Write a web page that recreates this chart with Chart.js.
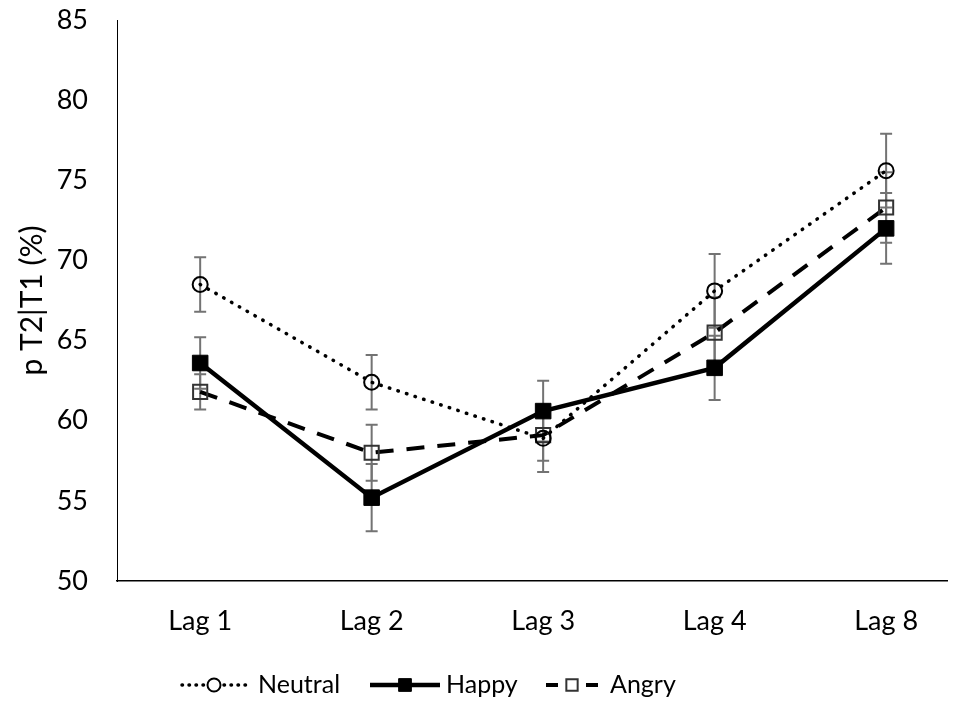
<!DOCTYPE html>
<html>
<head>
<meta charset="utf-8">
<script src="https://cdn.jsdelivr.net/npm/chart.js@4.4.1/dist/chart.umd.min.js"></script>
<style>
  html, body { margin: 0; padding: 0; background: #fff; overflow: hidden; }
</style>
</head>
<body>
<canvas id="chart" width="959" height="707"></canvas>
<script>
const lags = ['Lag 1', 'Lag 2', 'Lag 3', 'Lag 4', 'Lag 8'];
const neutral = [68.5, 62.4, 58.9, 68.1, 75.6];
const happy = [63.6, 55.2, 60.6, 63.3, 72.0];
const angry = [61.8, 58.0, 59.1, 65.5, 73.3];
const neutralErr = [1.7, 1.7, 2.1, 2.3, 2.3];
const happyErr = [1.6, 2.1, 1.9, 2.0, 2.2];
const angryErr = [1.1, 1.75, 1.6, 2.2, 2.2];
const yTicks = [50, 55, 60, 65, 70, 75, 80, 85];

const FONT = 'Lato, "Open Sans", sans-serif';
const ctx = document.getElementById('chart').getContext('2d');

// category positions 0..4; the plot runs off the right edge like the original
const toPoints = vals => vals.map((v, i) => ({ x: i, y: v }));

// grey whiskers behind the lines
const errorBars = {
    id: 'errorBars',
    beforeDatasetsDraw(chart) {
        const { ctx, scales: { x, y } } = chart;
        ctx.save();
        ctx.strokeStyle = '#737373';
        ctx.lineWidth = 2;
        chart.data.datasets.forEach(ds => {
            ds.errors.forEach((e, i) => {
                const p = ds.data[i];
                const px = x.getPixelForValue(p.x);
                const top = y.getPixelForValue(p.y + e);
                const bot = y.getPixelForValue(p.y - e);
                ctx.beginPath();
                ctx.moveTo(px, top); ctx.lineTo(px, bot);
                ctx.moveTo(px - 6, top); ctx.lineTo(px + 6, top);
                ctx.moveTo(px - 6, bot); ctx.lineTo(px + 6, bot);
                ctx.stroke();
            });
        });
        ctx.restore();
    }
};

// legend at the bottom, line + marker + label
const lineLegend = {
    id: 'lineLegend',
    afterDraw(chart) {
        const { ctx } = chart;
        const cy = 685;
        const items = [
            { ds: 0, x0: 182, x1: 252, mx: 214, tx: 258, rad: 6.5 },
            { ds: 1, x0: 370, x1: 440, mx: 405, tx: 446, rad: 9 },
            { ds: 2, x0: 546, x1: 604, mx: 572, tx: 610, rad: 8 }
        ];
        ctx.save();
        items.forEach(it => {
            const ds = chart.data.datasets[it.ds];
            ctx.strokeStyle = '#000';
            ctx.lineWidth = ds.borderWidth;
            ctx.lineCap = ds.borderCapStyle || 'butt';
            ctx.setLineDash(ds.legendDash || ds.borderDash || []);
            ctx.beginPath();
            ctx.moveTo(it.x0, cy); ctx.lineTo(it.x1, cy);
            ctx.stroke();
            ctx.setLineDash([]);
            ctx.strokeStyle = ds.pointBorderColor;
            ctx.lineWidth = ds.pointBorderWidth;
            ctx.beginPath();
            if (ds.pointStyle === 'circle') {
                ctx.arc(it.mx, cy, it.rad, 0, Math.PI * 2);
            } else {
                const s = it.rad * Math.SQRT1_2;
                ctx.rect(it.mx - s, cy - s, 2 * s, 2 * s);
            }
            ctx.fillStyle = ds.pointBackgroundColor === 'rgba(0,0,0,0)' ? '#fff' : ds.pointBackgroundColor;
            ctx.fill();
            ctx.stroke();
            ctx.fillStyle = '#000';
            ctx.font = '25px ' + FONT;
            ctx.textBaseline = 'middle';
            ctx.textAlign = 'left';
            ctx.fillText(ds.label, it.tx, cy);
        });
        ctx.restore();
    }
};

new Chart(ctx, {
    type: 'line',
    data: {
        datasets: [
            {
                label: 'Neutral',
                data: toPoints(neutral),
                errors: neutralErr,
                borderColor: '#000',
                borderWidth: 3.5,
                borderDash: [0.5, 8.5],
                legendDash: [0.5, 6.5],
                borderCapStyle: 'round',
                pointStyle: 'circle',
                pointRadius: 7.5,
                pointBorderWidth: 2,
                pointBorderColor: '#000',
                pointBackgroundColor: 'rgba(0,0,0,0)',
                tension: 0
            },
            {
                label: 'Happy',
                data: toPoints(happy),
                errors: happyErr,
                borderColor: '#000',
                borderWidth: 4.5,
                pointStyle: 'rect',
                pointRadius: 11,
                pointBorderWidth: 1,
                pointBorderColor: '#000',
                pointBackgroundColor: '#000',
                tension: 0
            },
            {
                label: 'Angry',
                data: toPoints(angry),
                errors: angryErr,
                borderColor: '#000',
                borderWidth: 4,
                borderDash: [18, 13],
                legendDash: [12, 8],
                pointStyle: 'rect',
                pointRadius: 10,
                pointBorderWidth: 2,
                pointBorderColor: '#333',
                pointBackgroundColor: 'rgba(0,0,0,0)',
                tension: 0
            }
        ]
    },
    options: {
        responsive: false,
        animation: false,
        layout: { padding: { top: 20, right: 0, bottom: 56, left: 0 } },
        scales: {
            x: {
                type: 'linear',
                min: -0.485,
                max: 4.355,
                afterBuildTicks(scale) { scale.ticks = lags.map((l, i) => ({ value: i })); },
                grid: { display: false, drawTicks: false },
                border: { color: '#000', width: 1.5 },
                ticks: {
                    color: '#000',
                    padding: 24,
                    font: { family: FONT, size: 27 },
                    callback: v => lags[v]
                },
                afterFit(scale) {
                    scale.height = 70;
                    scale.paddingLeft = 0;
                    scale.paddingRight = 0;
                }
            },
            y: {
                min: 50,
                max: 85,
                afterBuildTicks(scale) { scale.ticks = yTicks.map(v => ({ value: v })); },
                grid: { display: false, drawTicks: false },
                border: { color: '#000', width: 1 },
                ticks: { color: '#000', padding: 29, font: { family: FONT, size: 27 } },
                title: {
                    display: true,
                    text: 'p T2|T1 (%)',
                    color: '#000',
                    font: { family: FONT, size: 30 },
                    padding: { top: 14, bottom: 0 }
                },
                afterFit(scale) {
                    scale.width = 117;
                    scale.paddingTop = 0;
                    scale.paddingBottom = 0;
                }
            }
        },
        plugins: {
            legend: { display: false },
            tooltip: { enabled: false }
        }
    },
    plugins: [errorBars, lineLegend]
});
</script>
</body>
</html>
